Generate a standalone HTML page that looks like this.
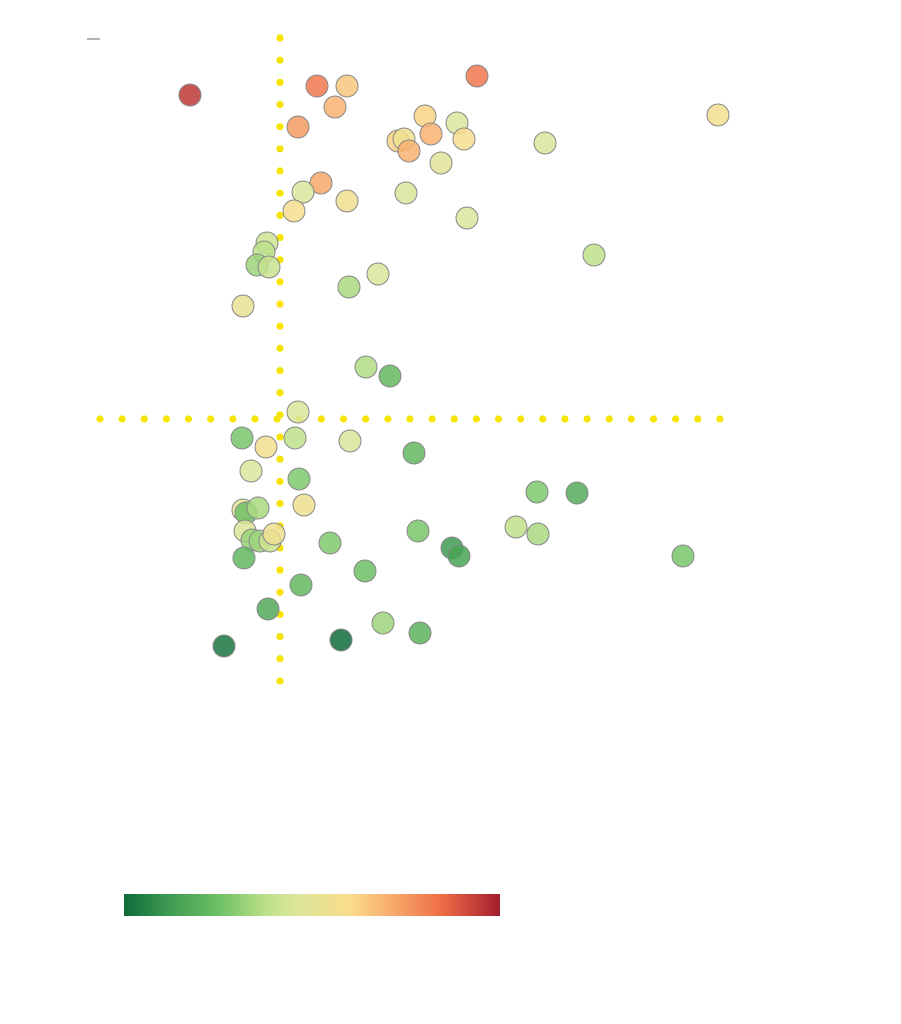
<!DOCTYPE html>
<html><head><meta charset="utf-8"><style>
body{margin:0;background:#fff;font-family:"Liberation Sans",sans-serif}
svg{display:block}
</style></head><body>
<svg id="chart" width="901" height="1024">
<defs>
<linearGradient id="cmap" x1="0" x2="1" y1="0" y2="0">
<stop offset="0" stop-color="#0f6b3a"/><stop offset="0.12" stop-color="#3f9a52"/>
<stop offset="0.25" stop-color="#6cc064"/><stop offset="0.38" stop-color="#bde18a"/>
<stop offset="0.45" stop-color="#d9e59a"/><stop offset="0.6" stop-color="#fadc8c"/>
<stop offset="0.72" stop-color="#f7a86a"/><stop offset="0.85" stop-color="#ee6a46"/>
<stop offset="1" stop-color="#a31e2e"/>
</linearGradient>
</defs>
<line x1="87" y1="39" x2="100" y2="39" stroke="#666" stroke-width="1"/>
<g id="guides"></g>
<g id="points"></g>
<rect x="124" y="894" width="376" height="22" fill="url(#cmap)"/>
</svg>
<script>
const xValues=[-9,3.7,6.7,19.7,5.5,1.8,14.5,17.7,43.8,11.8,12.4,15.1,18.4,12.9,26.5,16.1,4.1,2.3,6.7,12.6,1.4,18.7,-1.3,-1.6,-2.3,-1.1,31.4,9.8,6.9,-3.7,8.6,11,1.8,-3.8,-1.4,1.5,7,13.4,-2.9,1.9,-3.7,-3.4,-2.2,2.4,25.7,29.7,-3.5,-2.8,-2,-1,-0.6,5,13.8,23.6,25.8,17.2,17.9,40.3,-3.6,8.5,2.1,-1.2,10.3,14,-5.6,6.1];
const yValues=[32.4,33.3,33.3,34.3,31.2,29.2,30.3,29.6,30.4,27.8,28,28.5,28,26.8,27.6,25.6,23.6,22.7,21.8,22.6,20.8,20.1,17.6,16.7,15.4,15.2,16.4,14.5,13.2,11.3,5.2,4.3,0.7,-1.9,-2.8,-1.9,-2.2,-3.4,-5.2,-6,-9.1,-9.4,-8.9,-8.6,-7.3,-7.4,-11.2,-12.1,-12.2,-12.2,-11.5,-12.4,-11.2,-10.8,-11.5,-12.9,-13.7,-13.7,-13.9,-15.2,-16.6,-19,-20.4,-21.4,-22.7,-22.1];
const colorValues=[0.95,0.82,0.65,0.82,0.7,0.75,0.62,0.45,0.57,0.62,0.55,0.7,0.58,0.7,0.45,0.48,0.72,0.45,0.55,0.45,0.58,0.45,0.42,0.38,0.33,0.4,0.38,0.45,0.35,0.52,0.36,0.22,0.45,0.27,0.57,0.38,0.45,0.22,0.45,0.28,0.5,0.25,0.35,0.55,0.28,0.18,0.47,0.32,0.33,0.42,0.55,0.28,0.27,0.38,0.35,0.12,0.15,0.27,0.22,0.25,0.22,0.17,0.33,0.2,0.03,0.0];
const xScale=v=>280+v*10;
const yScale=v=>419-v*10;
const stops=[[0,[15,107,58]],[0.12,[63,154,82]],[0.25,[108,192,100]],[0.38,[189,225,138]],[0.45,[217,229,154]],[0.6,[250,220,140]],[0.72,[247,168,106]],[0.85,[238,106,70]],[1,[163,30,46]]];
function cmap(t){for(let i=1;i<stops.length;i++){if(t<=stops[i][0]){const a=stops[i-1],b=stops[i],f=(t-a[0])/(b[0]-a[0]);return 'rgb('+a[1].map((c,k)=>Math.round(c+(b[1][k]-c)*f)).join(',')+')';}}return 'rgb(163,30,46)';}
const NS='http://www.w3.org/2000/svg';
const g=document.getElementById('guides');
for(let y=38;y<=681;y+=22.17){const c=document.createElementNS(NS,'circle');c.setAttribute('cx',280);c.setAttribute('cy',y);c.setAttribute('r',3.6);c.setAttribute('fill','#f7e400');


g.appendChild(c);}
for(let x=100;x<=721;x+=22.14){const c=document.createElementNS(NS,'circle');c.setAttribute('cx',x);c.setAttribute('cy',419);c.setAttribute('r',3.6);c.setAttribute('fill','#f7e400');


g.appendChild(c);}
const p=document.getElementById('points');
xValues.forEach((xv,i)=>{const c=document.createElementNS(NS,'circle');c.setAttribute('cx',xScale(xv));c.setAttribute('cy',yScale(yValues[i]));c.setAttribute('r',11);c.setAttribute('fill',cmap(colorValues[i]));c.setAttribute('fill-opacity',0.85);c.setAttribute('stroke','#888');c.setAttribute('stroke-width',1);


p.appendChild(c);});
</script>
</body></html>
